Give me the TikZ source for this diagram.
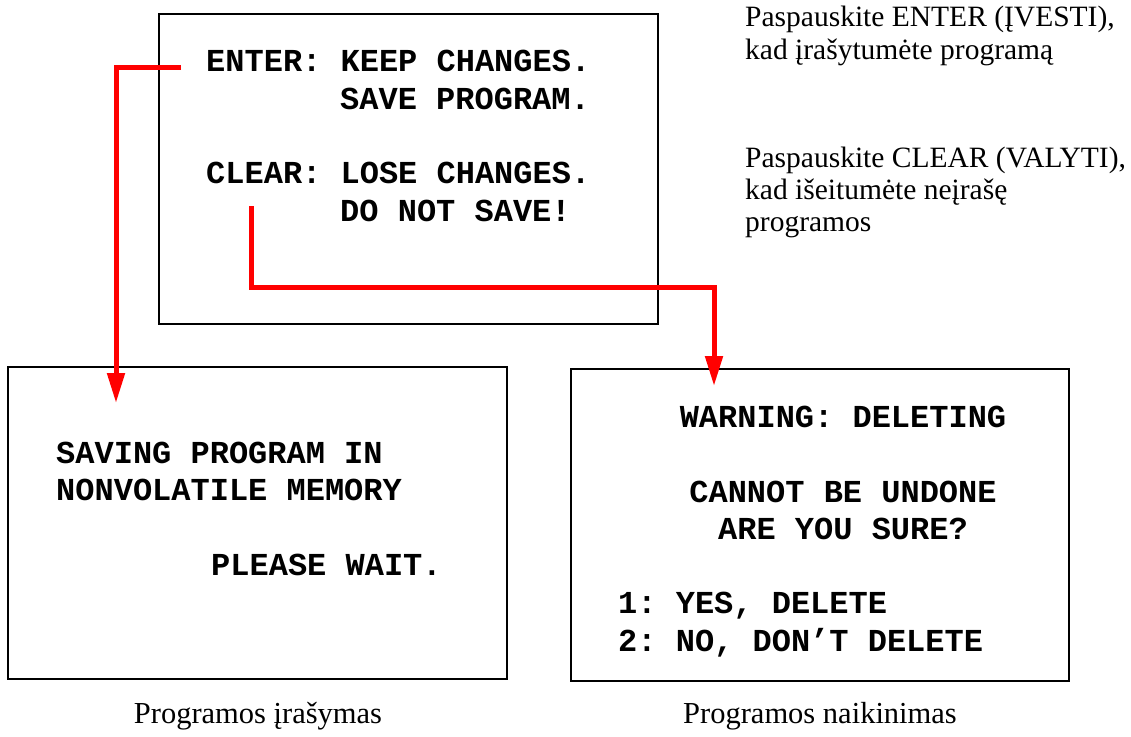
\documentclass[tikz,border=0pt]{standalone}
\usepackage{fontspec}
\setmainfont{Liberation Serif}
\setmonofont{Liberation Mono}
\usetikzlibrary{arrows.meta}
\tikzset{
  x=1pt, y=-1pt,
  screen/.style={draw=black, line width=2pt, rectangle, inner sep=0pt, fill=none},
  mono/.style={inner sep=0pt, font=\ttfamily\bfseries\fontsize{32}{38}\selectfont},
  serif/.style={inner sep=0pt, anchor=base west, font=\fontsize{29.5}{32}\selectfont},
  caption/.style={inner sep=0pt, anchor=base, font=\fontsize{30.5}{32}\selectfont},
  redarrow/.style={draw=red, line width=5pt, line join=miter, -{Triangle[length=30pt,width=17pt]}}
}
\begin{document}
\begin{tikzpicture}
\useasboundingbox (0,0) rectangle (1131,736);
% screens
\node[screen, minimum width=499pt, minimum height=310pt] (menu) at (408.5,169) {};
\node[screen, minimum width=499pt, minimum height=312pt] (save) at (257.5,523) {};
\node[screen, minimum width=498pt, minimum height=312pt] (del) at (820,525) {};
% top screen text
\node[mono, anchor=base west] (l1) at (206,71) {ENTER: KEEP CHANGES.};
\node[mono, anchor=base west] (l2) at (340,109) {SAVE PROGRAM.};
\node[mono, anchor=base west] (l3) at (206,183) {CLEAR: LOSE CHANGES.};
\node[mono, anchor=base west] (l4) at (340,221) {DO NOT SAVE!};
% save screen text
\node[mono, anchor=base west] (s1) at (56,463) {SAVING PROGRAM IN};
\node[mono, anchor=base west] (s2) at (56,500) {NONVOLATILE MEMORY};
\node[mono, anchor=base west] (s3) at (211,575) {PLEASE WAIT.};
% delete screen text
\node[mono, anchor=base] (d1) at (843,427) {WARNING: DELETING};
\node[mono, anchor=base] (d2) at (843,502) {CANNOT BE UNDONE};
\node[mono, anchor=base] (d3) at (843,539) {ARE YOU SURE?};
\node[mono, anchor=base west] (d4) at (618,613) {1: YES, DELETE};
\node[mono, anchor=base west] (d5) at (618,651) {2: NO, DON’T DELETE};
% notes
\node[serif] (n1) at (745,27) {Paspauskite ENTER (ĮVESTI),};
\node[serif] (n2) at (745,59) {kad įrašytumėte programą};
\node[serif] (n3) at (745,167) {Paspauskite CLEAR (VALYTI),};
\node[serif] (n4) at (745,199) {kad išeitumėte neįrašę};
\node[serif] (n5) at (745,231) {programos};
% captions
\node[caption] (c1) at (258,723) {Programos įrašymas};
\node[caption] (c2) at (820,723) {Programos naikinimas};
% arrows
\coordinate (enterstart) at (181,67);
\coordinate (savetip) at (116,403);
\coordinate (clearstart) at (251,206);
\coordinate (deltip) at (714,386);
\draw[redarrow] (enterstart) -| (savetip);
\draw[redarrow] (clearstart) |- (deltip |- 0,287) -- (deltip);
\end{tikzpicture}
\end{document}
